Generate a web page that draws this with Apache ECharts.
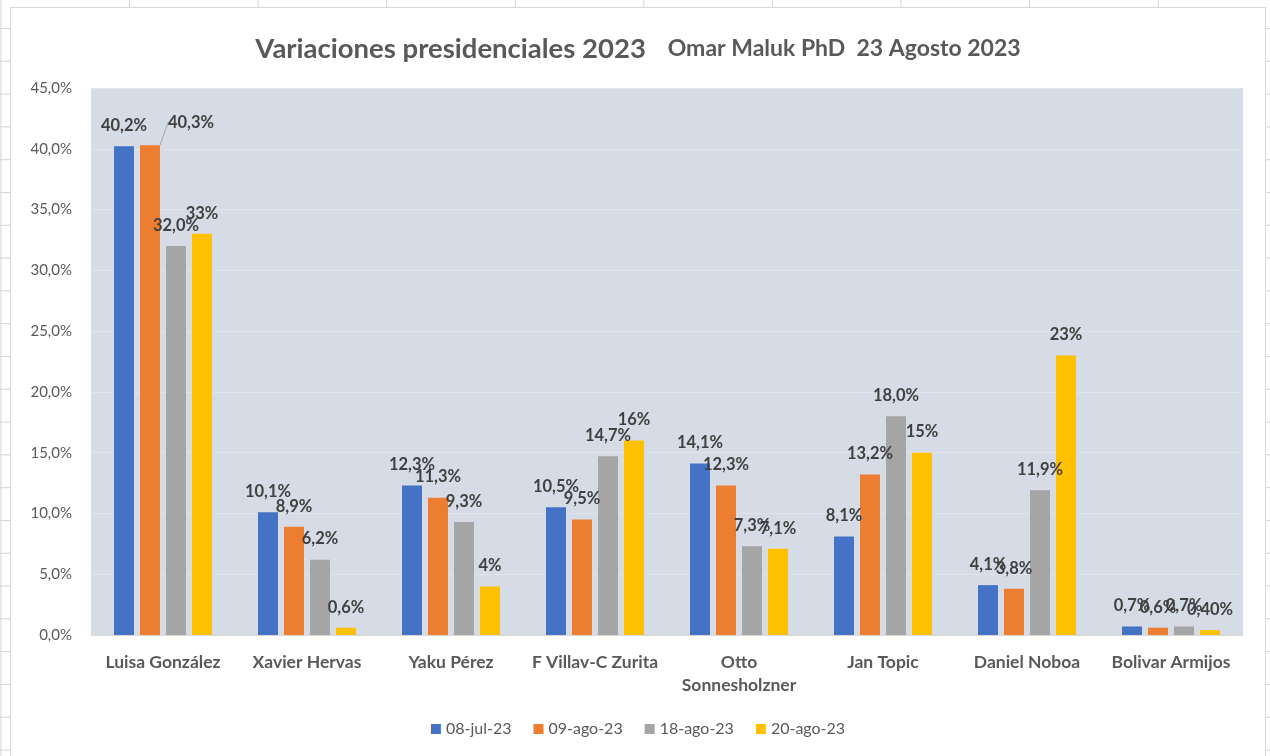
<!DOCTYPE html>
<html lang="es">
<head>
<meta charset="UTF-8">
<title>Variaciones presidenciales 2023</title>
<style>
    *{
        margin: 0;
        padding: 0;
    }
    body{
        width: 1270px;
        height: 756px;
        overflow: hidden;
        background-color: #fff;
        background-image: linear-gradient(to right, #d4d4d4 1px, transparent 1px),
                          linear-gradient(to bottom, #d4d4d4 1px, transparent 1px);
        background-size: 128.6px 32.8px;
        background-position: 0.4px 0, 0 28px;
        position: relative;
    }
    #chartBox{
        position: absolute;
        left: 10px;
        top: 7px;
        width: 1256px;
        height: 760px;
        box-sizing: border-box;
        border: 1px solid #d9d9d9;
        background: #fff;
    }
</style>
</head>
<body>
<div id="chartBox"></div>
<script src="https://cdn.jsdelivr.net/npm/echarts@6/dist/echarts.min.js"></script>
<script>
var candidatos = ['Luisa González', 'Xavier Hervas', 'Yaku Pérez', 'F Villav-C Zurita', 'Otto\nSonnesholzner', 'Jan Topic', 'Daniel Noboa', 'Bolivar Armijos'];
var fechas = ['08-jul-23', '09-ago-23', '18-ago-23', '20-ago-23'];
var jul08 = [40.2, 10.1, 12.3, 10.5, 14.1, 8.1, 4.1, 0.7];
var ago09 = [40.3, 8.9, 11.3, 9.5, 12.3, 13.2, 3.8, 0.6];
var ago18 = [32.0, 6.2, 9.3, 14.7, 7.3, 18.0, 11.9, 0.7];
var ago20 = [33, 0.6, 4, 16, 7.1, 15, 23, 0.4];
// etiquetas tal como salen en la serie del 20-ago
var etiq20 = ['33%', '0,6%', '4%', '16%', '7,1%', '15%', '23%', '0,40%'];
var colores = ['#4472C4', '#ED7D31', '#A5A5A5', '#FFC000'];

var fuente = 'Lato';

function pct1(v){
    return v.toFixed(1).replace('.', ',') + '%';
}

function serie(nombre, datos, idx, textos){
    return {
        type: 'bar',
        name: nombre,
        barWidth: 20,
        barGap: '30%',
        data: datos.map(function(v, i){
            var item = {value: v};
            // Luisa / 09-ago: etiqueta desplazada con linea guia
            if(idx == 1 && i == 0){
                item.labelLine = {show: true, lineStyle: {color: '#a5a5a5', width: 1}};
            }
            return item;
        }),
        itemStyle: {color: colores[idx]},
        label: {
            show: true,
            position: 'top',
            distance: 12,
            fontFamily: fuente,
            fontWeight: 'bold',
            fontSize: 16.5,
            color: '#404040',
            formatter: function(p){
                return textos ? textos[p.dataIndex] : pct1(p.value);
            }
        },
        labelLayout: function(p){
            if(idx == 1 && p.dataIndex == 0){
                return {dx: 41, dy: -2};
            }
            return {};
        }
    };
}

var myChart = echarts.init(document.getElementById('chartBox'));
var option = {
    animation: false,
    textStyle: {fontFamily: fuente},
    title: {
        left: 'center',
        top: 22,
        text: '{a|Variaciones presidenciales 2023}     {b|Omar Maluk PhD  23 Agosto 2023}',
        textStyle: {
            rich: {
                a: {fontFamily: fuente, fontWeight: 'bold', fontSize: 27.5, color: '#595959'},
                b: {fontFamily: fuente, fontWeight: 'bold', fontSize: 23, color: '#595959'}
            }
        }
    },
    grid: {
        left: 80,
        right: 22,
        top: 80,
        bottom: 131,
        show: true,
        backgroundColor: '#D6DCE5',
        borderWidth: 0
    },
    legend: {
        bottom: 24,
        left: 'center',
        icon: 'rect',
        itemWidth: 10,
        itemHeight: 10,
        itemGap: 22,
        textStyle: {fontFamily: fuente, fontSize: 16, color: '#595959'},
        data: fechas
    },
    xAxis: {
        type: 'category',
        data: candidatos,
        axisTick: {show: false},
        axisLine: {lineStyle: {color: '#d9d9d9', width: 1}},
        axisLabel: {
            margin: 16,
            interval: 0,
            fontFamily: fuente,
            fontWeight: 'bold',
            fontSize: 17.5,
            lineHeight: 23,
            color: '#595959'
        }
    },
    yAxis: {
        type: 'value',
        min: 0,
        max: 45,
        interval: 5,
        axisLine: {show: false},
        axisTick: {show: false},
        splitLine: {lineStyle: {color: '#e1e3e7'}},
        axisLabel: {
            margin: 19,
            fontFamily: fuente,
            fontSize: 15,
            color: '#595959',
            formatter: function(v){ return pct1(v); }
        }
    },
    series: [
        serie(fechas[0], jul08, 0),
        serie(fechas[1], ago09, 1),
        serie(fechas[2], ago18, 2),
        serie(fechas[3], ago20, 3, etiq20)
    ]
};
myChart.setOption(option);
</script>
</body>
</html>
